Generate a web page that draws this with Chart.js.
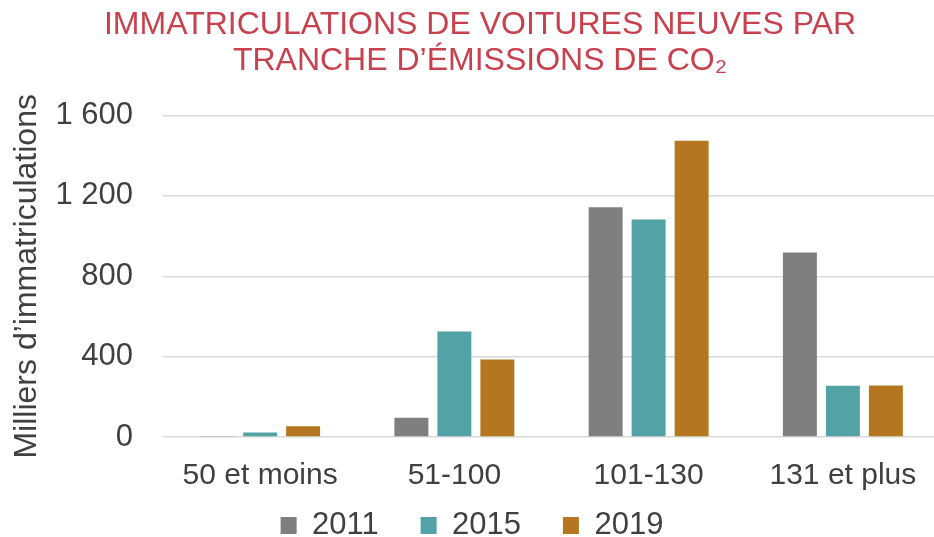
<!DOCTYPE html>
<html><head><meta charset="utf-8">
<script src="https://cdn.jsdelivr.net/npm/chart.js@4"></script>
<style>html,body{margin:0;padding:0;overflow:hidden;background:#fff}#wrap{position:relative;width:940px;height:551px}</style>
</head><body><div id="wrap"><canvas id="c"></canvas></div>
<script>
const categories = ['50 et moins', '51-100', '101-130', '131 et plus'];
const seriesNames = ['2011', '2015', '2019'];
const values2011 = [2, 96, 1144, 918];
const values2015 = [22, 525, 1083, 255];
const values2019 = [53, 386, 1475, 256];
const yTickValues = [0, 400, 800, 1200, 1600];
const yTickLabels = ['0', '400', '800', '1 200', '1 600'];
const titleLines = ['IMMATRICULATIONS DE VOITURES NEUVES PAR', 'TRANCHE D’ÉMISSIONS DE CO₂'];
const yAxisTitle = 'Milliers d’immatriculations';
const seriesColors = ['#7F7F7F', '#52A2A6', '#B4771F'];

Chart.defaults.font.family = "'Liberation Sans', Arial, sans-serif";
const textColor = '#404040';

const shiftTitle = {
  id: 'shiftTitle',
  afterLayout(chart) { if (chart.titleBlock) chart.titleBlock.left = 20; }
};

new Chart(document.getElementById('c'), {
  type: 'bar',
  data: {
    labels: categories,
    datasets: [values2011, values2015, values2019].map((vals, i) => ({
      label: seriesNames[i],
      data: vals,
      backgroundColor: seriesColors[i],
      borderWidth: 0,
      barPercentage: 0.79,
      categoryPercentage: 0.664
    }))
  },
  options: {
    responsive: true,
    maintainAspectRatio: false,
    animation: false,
    devicePixelRatio: 1,
    layout: { padding: { left: 4, right: 0, top: 0, bottom: 0 } },
    plugins: {
      tooltip: { enabled: false },
      title: {
        display: true,
        text: titleLines,
        color: '#C8414F',
        font: { size: 32, weight: 'normal', lineHeight: 1.125 },
        padding: { top: 7.6, bottom: 36 }
      },
      legend: {
        position: 'bottom',
        align: 'center',
        labels: {
          boxWidth: 16,
          boxHeight: 17,
          padding: 16,
          color: textColor,
          font: { size: 31 },
          generateLabels(chart) {
            const items = Chart.defaults.plugins.legend.labels.generateLabels(chart);
            items.forEach((it, i) => { if (i < items.length - 1) it.text = it.text + '   '; });
            return items;
          }
        }
      }
    },
    scales: {
      x: {
        grid: { display: false, drawTicks: false, tickLength: 0 },
        border: { display: false },
        ticks: { color: textColor, font: { size: 30 }, padding: 21, maxRotation: 0 },
        afterFit(axis) { axis.height = 57; }
      },
      y: {
        min: 0,
        max: 1600,
        border: { display: false },
        grid: { color: '#D9D9D9', lineWidth: 1.5, drawTicks: false, tickLength: 0 },
        afterBuildTicks(axis) { axis.ticks = yTickValues.map(v => ({ value: v })); },
        afterFit(axis) { axis.width = 159; },
        ticks: {
          color: textColor,
          font: { size: 31 },
          padding: 30,
          callback: (v) => yTickLabels[yTickValues.indexOf(v)]
        },
        title: {
          display: true,
          text: yAxisTitle,
          color: textColor,
          font: { size: 32 },
          padding: { top: 4, bottom: 9 }
        }
      }
    }
  },
  plugins: [shiftTitle]
});
</script>
</body></html>
